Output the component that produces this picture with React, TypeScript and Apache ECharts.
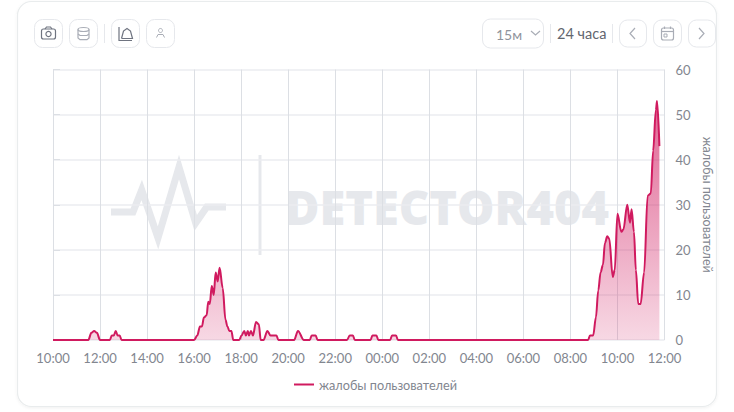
import React, { useEffect, useRef } from "react";
import * as echarts from "echarts";

const minutes = [0, 90, 98, 105, 112, 120, 145, 150, 155, 160, 165, 170, 175,
  360, 368, 375, 380, 385, 392, 396, 400, 405, 410, 415, 420, 425, 433, 440, 445, 450, 455, 460,
  475, 481, 488, 492, 497, 500, 505, 510, 518, 525, 530, 537, 547, 555, 570, 575,
  615, 625, 640, 655, 660, 670, 675, 750, 757, 765, 770, 810, 815, 825, 830, 860, 865, 875, 880,
  1365, 1370, 1378, 1385, 1391, 1397, 1403, 1408, 1414, 1419, 1428, 1433, 1440, 1450, 1455, 1465, 1472, 1476, 1482, 1487, 1493, 1499, 1508, 1517, 1525, 1531, 1538, 1541, 1547];
const complaints = [0, 0, 1.6, 2, 1.6, 0, 0, 1, 1, 2, 1, 1, 0,
  0, 1, 3, 3, 5, 5.5, 8.5, 8, 12, 10, 15, 13, 16, 11.5, 4.5, 3, 2, 2, 0,
  0, 1, 2, 1, 2, 1, 2, 1, 4, 3.5, 0, 0, 2, 1, 1, 0,
  0, 2, 0, 0, 1, 1, 0, 0, 1, 1, 0, 0, 1, 1, 0, 0, 1, 1, 0,
  0, 1, 1, 5, 11, 15, 16.7, 21.5, 23, 22.5, 14, 15.5, 28, 24, 24.5, 30, 26, 29, 24, 15.5, 8, 8, 15, 32, 32.5, 42, 51, 53, 43];
const tickLabels = ["10:00", "12:00", "14:00", "16:00", "18:00", "20:00", "22:00", "00:00", "02:00", "04:00", "06:00", "08:00", "10:00", "12:00"];
const seriesName = "жалобы пользователей";
const FONT = "Lato, 'Noto Sans', sans-serif";
const BORDER = "#e6e8ec";
const ICON = "#6f7480";
const PALE = "#a9adb6";
const LABEL = "#82868f";

const btn = (x: number, y: number, w: number, h: number) => ({
  type: "rect", shape: { x, y, width: w, height: h, r: 8 },
  style: { fill: "#fff", stroke: BORDER, lineWidth: 1 }, z: 5,
});
const stroke = (color: string, w = 1.2) => ({ fill: "none", stroke: color, lineWidth: w });
const poly = (points: number[][], color: string, w = 1.2) => ({
  type: "polyline", shape: { points }, style: stroke(color, w), z: 6,
});
const vline = (x: number, y1: number, y2: number, color = BORDER, w = 1) => ({
  type: "line", shape: { x1: x, y1, x2: x, y2 }, style: { stroke: color, lineWidth: w }, z: 6,
});

const graphicElements: any[] = [
  // card
  { type: "rect", shape: { x: 17.5, y: 1.5, width: 699, height: 405, r: 14 },
    style: { fill: "#fff", stroke: "#e9eced", lineWidth: 1.2, shadowBlur: 3, shadowColor: "rgba(0,0,0,0.06)", shadowOffsetY: 1 }, z: -10 },
  // watermark
  { type: "polyline", shape: { points: [[111, 212], [133, 212], [141.7, 190], [158, 238], [179, 167], [195.7, 223], [206.7, 207], [226, 207]] },
    style: { fill: "none", stroke: "#e6e8ec", lineWidth: 7, lineJoin: "miter" }, z: -5 },
  { type: "line", shape: { x1: 260, y1: 155, x2: 260, y2: 255 }, style: { stroke: "#e6e8ec", lineWidth: 3 }, z: -5 },
  { type: "text", x: 285, y: 207, z: -5,
    style: { text: "DETECTOR404", fill: "#e6e8ec", font: "900 47px 'Open Sans', sans-serif", verticalAlign: "middle", textAlign: "left" } },
  // left toolbar
  btn(34.5, 19.5, 28, 28), btn(69.5, 19.5, 28, 28), vline(104.5, 24, 43), btn(111.5, 19.5, 28, 28), btn(146.5, 19.5, 28, 28),
  // camera
  { type: "rect", shape: { x: 41.5, y: 29, width: 14, height: 10, r: 2 }, style: stroke(ICON), z: 6 },
  poly([[45, 29], [46.5, 27], [50.5, 27], [52, 29]], ICON),
  { type: "circle", shape: { cx: 48.5, cy: 34, r: 2.6 }, style: stroke(ICON), z: 6 },
  // database
  { type: "ellipse", shape: { cx: 83.5, cy: 29.5, rx: 5.5, ry: 2 }, style: stroke(PALE), z: 6 },
  poly([[78, 29.5], [78, 38], [80, 39.7], [87, 39.7], [89, 38], [89, 29.5]], PALE),
  poly([[78, 34], [80, 35.5], [87, 35.5], [89, 34]], PALE),
  // chart icon
  poly([[119, 27], [119, 40.5], [132, 40.5]], ICON),
  poly([[121.5, 38.5], [123.5, 31], [127, 28.5], [130.5, 31], [132.5, 38.5], [121.5, 38.5]], ICON),
  // person
  { type: "circle", shape: { cx: 160.5, cy: 30.5, r: 2 }, style: stroke(PALE, 1), z: 6 },
  poly([[156.5, 37.5], [158, 34.5], [163, 34.5], [164.5, 37.5]], PALE, 1),
  // right toolbar
  btn(482.5, 19, 61, 29), vline(550.5, 24, 43),
  { type: "text", x: 496, y: 34, z: 6, style: { text: "15м", fill: "#8f939c", font: `14px ${FONT}`, verticalAlign: "middle" } },
  poly([[531, 31], [535.5, 35], [540, 31]], PALE),
  { type: "text", x: 557, y: 33, z: 6, style: { text: "24 часа", fill: "#62666f", font: `14.5px ${FONT}`, verticalAlign: "middle" } },
  vline(612.5, 24, 43),
  btn(619.5, 20, 27, 27), btn(653.5, 20, 28, 27), btn(688.5, 20, 27, 27),
  poly([[635, 28], [630, 33.5], [635, 39]], PALE),
  { type: "rect", shape: { x: 661.5, y: 28, width: 12, height: 12, r: 2 }, style: stroke(PALE), z: 6 },
  poly([[661.5, 31.5], [673.5, 31.5]], PALE),
  poly([[664.5, 26.5], [664.5, 29]], PALE),
  poly([[670.5, 26.5], [670.5, 29]], PALE),
  { type: "rect", shape: { x: 664, y: 34, width: 3, height: 3 }, style: stroke(PALE, 1), z: 6 },
  poly([[699, 28], [704, 33.5], [699, 39]], PALE),
];

export default function App() {
  const ref = useRef<HTMLDivElement>(null);
  useEffect(() => {
    document.body.style.margin = "0";
    const chart = echarts.init(ref.current!, undefined, { renderer: "svg" });
    chart.setOption({
      animation: false,
      backgroundColor: "#fff",
      textStyle: { fontFamily: FONT },
      grid: { left: 53, right: 69.5, top: 69.5, bottom: 72, containLabel: false },
      graphic: { elements: graphicElements },
      legend: {
        show: true, bottom: 16, left: 289, icon: "rect", itemWidth: 20, itemHeight: 2, itemGap: 5,
        textStyle: { color: LABEL, fontSize: 12.7, fontFamily: FONT },
        data: [seriesName],
      },
      xAxis: {
        type: "value", min: 0, max: 1560, interval: 120,
        axisLine: { show: false }, axisTick: { show: false },
        axisLabel: {
          color: LABEL, fontSize: 13, margin: 11, showMinLabel: true, showMaxLabel: true,
          formatter: (v: number) => tickLabels[Math.round(v / 120)],
        },
        splitLine: { show: true, lineStyle: { color: "#dcdfe4", width: 1 } },
      },
      yAxis: {
        type: "value", position: "right", min: 0, max: 60, interval: 10,
        name: seriesName, nameLocation: "middle", nameRotate: -90, nameGap: 33,
        nameTextStyle: { color: LABEL, fontSize: 12.5 },
        axisLine: { show: false },
        axisTick: { show: true, length: 7, lineStyle: { color: "#dcdfe4" } },
        axisLabel: { color: LABEL, fontSize: 13, margin: 11 },
        splitLine: { show: true, lineStyle: { color: "#ebedf0", width: 1.5 } },
      },
      series: [{
        name: seriesName, type: "line",
        data: minutes.map((m, i) => [m, complaints[i]]),
        smooth: 0.35, smoothMonotone: "x", showSymbol: false,
        lineStyle: { color: "#d01a5f", width: 2 },
        itemStyle: { color: "#d01a5f" },
        areaStyle: {
          color: new echarts.graphic.LinearGradient(0, 0, 0, 1, [
            { offset: 0, color: "rgba(208,26,95,0.95)" },
            { offset: 1, color: "rgba(208,26,95,0.24)" },
          ]),
        },
      }],
    });
    return () => chart.dispose();
  }, []);
  return <div ref={ref} style={{ width: 734, height: 412 }} />;
}
